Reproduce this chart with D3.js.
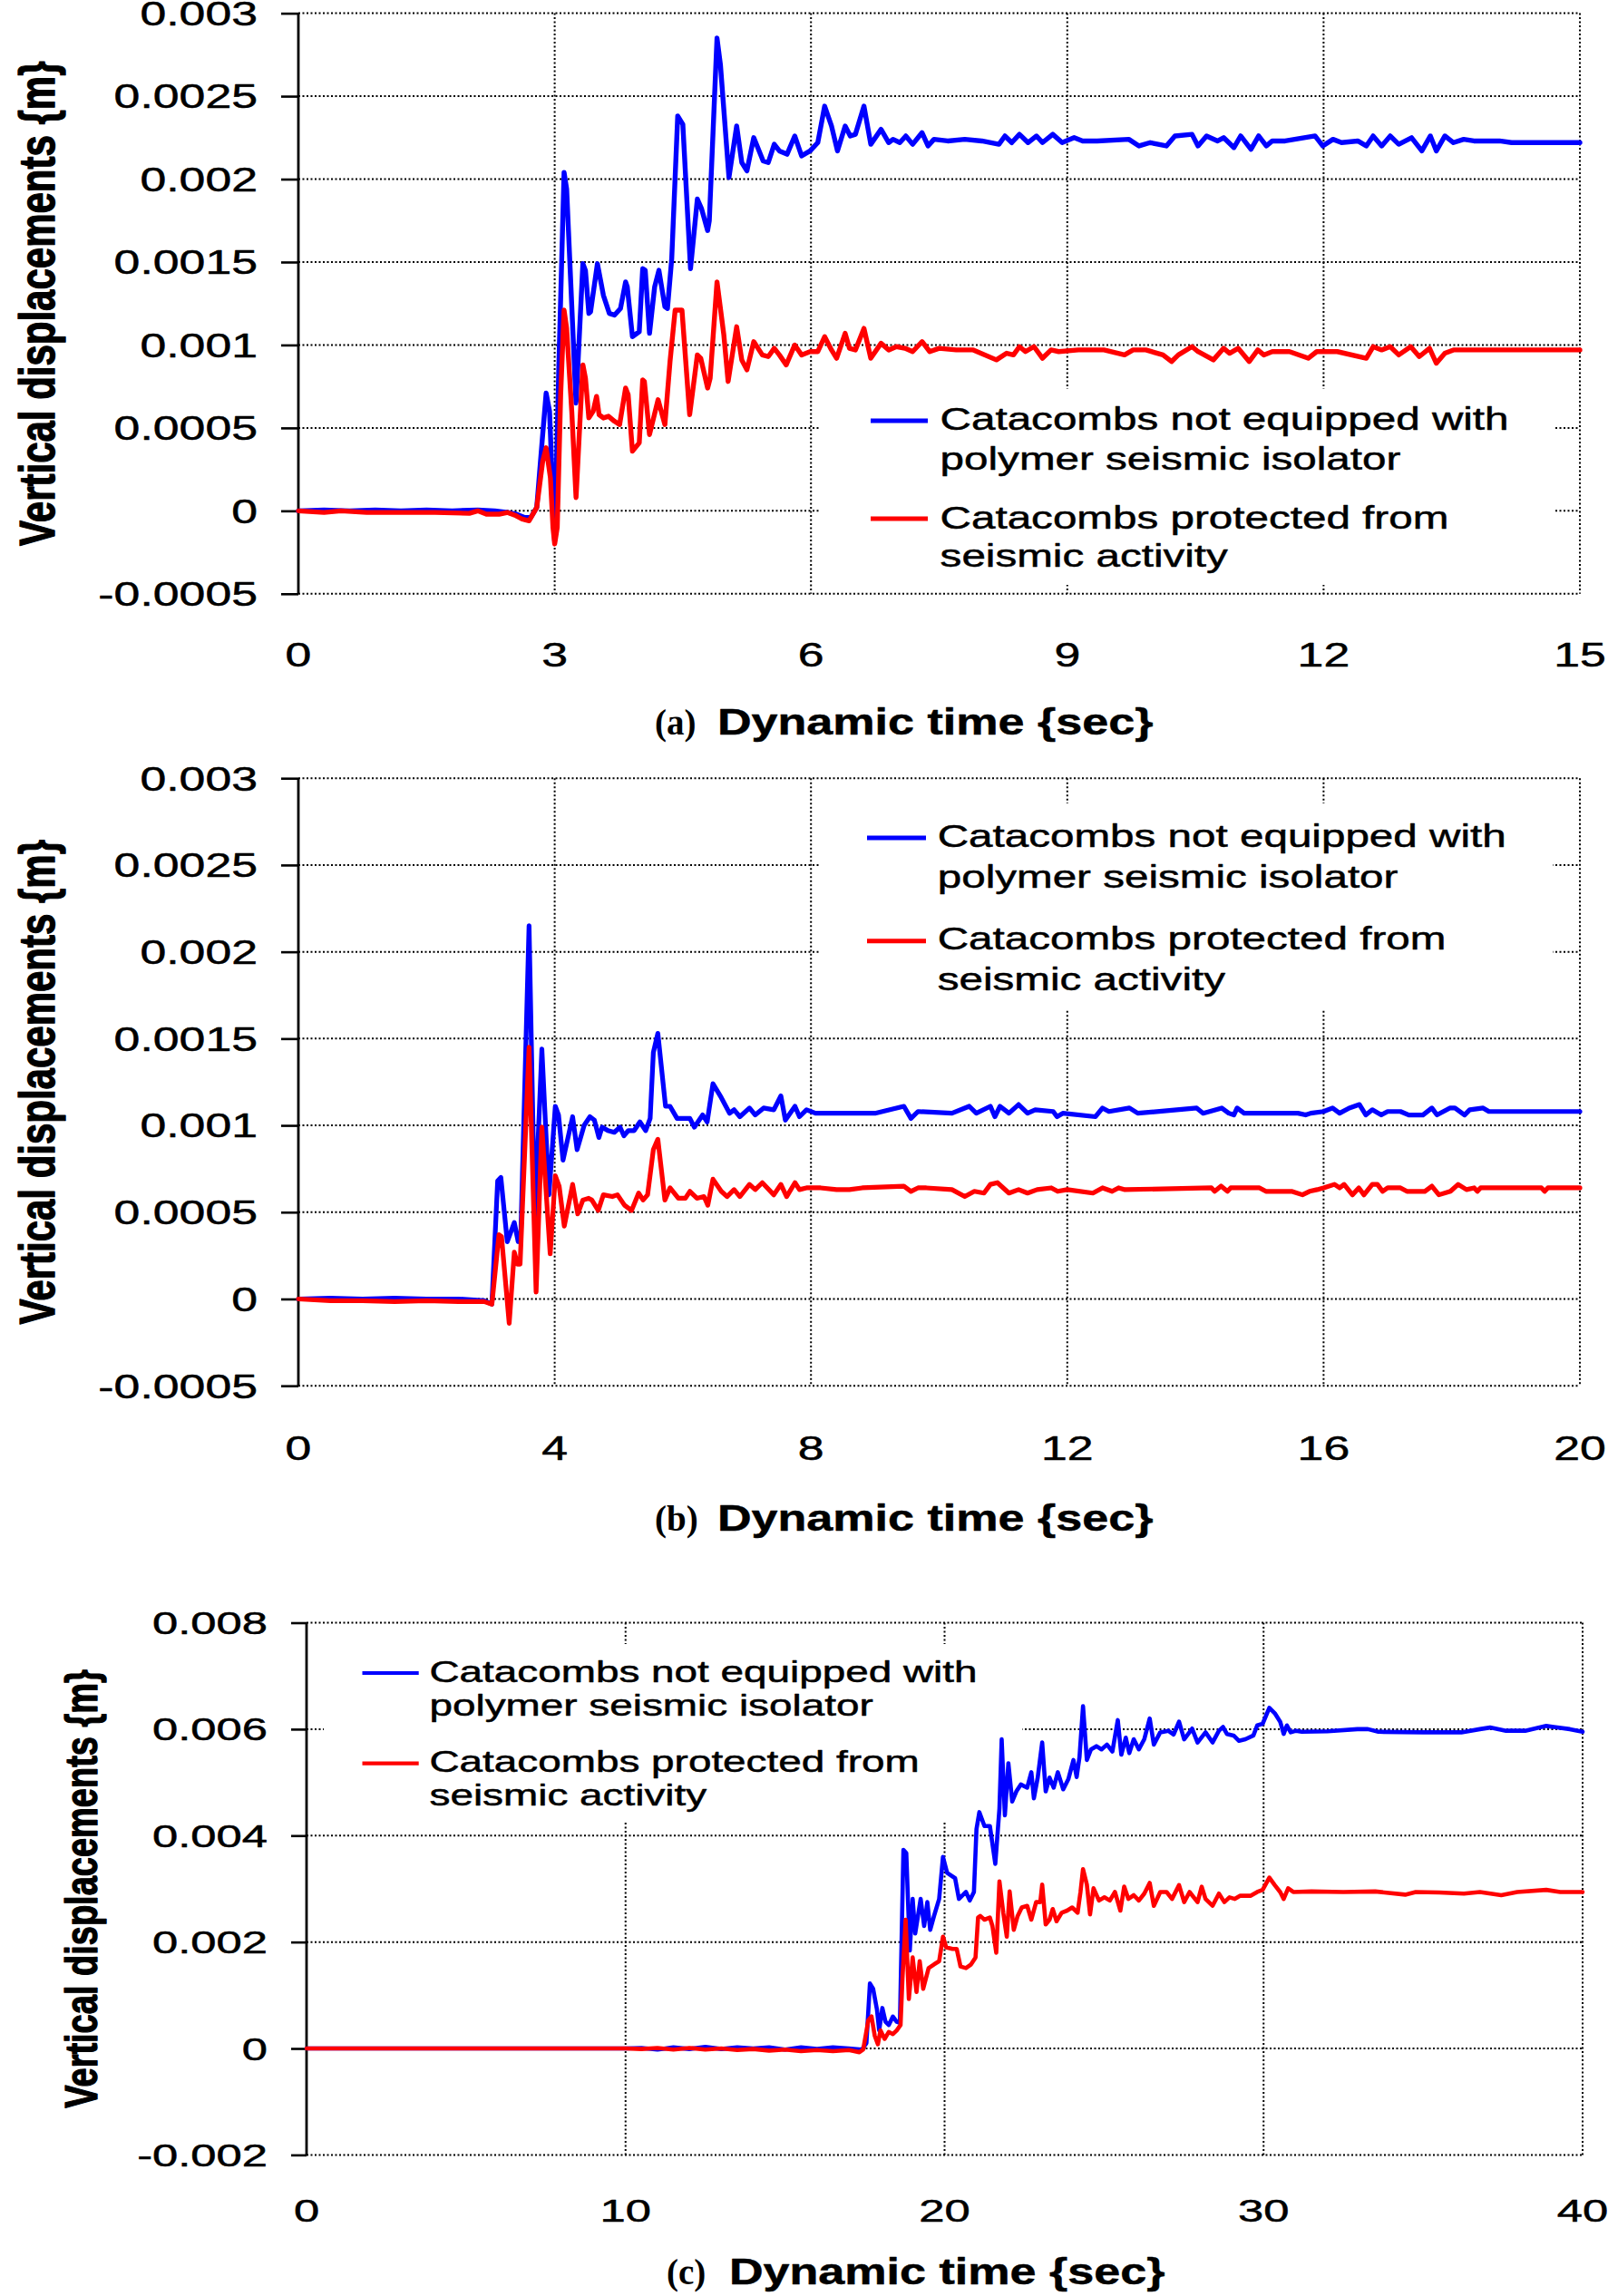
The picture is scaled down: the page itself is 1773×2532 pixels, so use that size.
<!DOCTYPE html>
<html><head><meta charset="utf-8">
<script src="https://cdn.jsdelivr.net/npm/d3@7"></script>
<style>body{margin:0;background:#fff} svg{display:block}</style>
</head><body>
<script>
// ---------------- DATA ----------------
const seriesNames = [["Catacombs not equipped with","polymer seismic isolator"],["Catacombs protected from","seismic activity"]];
const seriesColors = ["#0000ff","#ff0000"];
const panelLetters = ["(a)","(b)","(c)"];
const xTitle = "Dynamic time {sec}";
const yTitle = "Vertical displacements {m}";

const xTicksA = [0,3,6,9,12,15];
const xTicksB = [0,4,8,12,16,20];
const xTicksC = [0,10,20,30,40];
const yTicksAB = [-0.0005,0,0.0005,0.001,0.0015,0.002,0.0025,0.003];
const yTickLabelsAB = ["-0.0005","0","0.0005","0.001","0.0015","0.002","0.0025","0.003"];
const yTicksC = [-0.002,0,0.002,0.004,0.006,0.008];
const yTickLabelsC = ["-0.002","0","0.002","0.004","0.006","0.008"];

const blueA = [[0,0],[0.3,0.000005],[0.6,0],[0.9,0.000005],[1.2,0],[1.5,0.000005],[1.8,0],[2.1,0.000005],[2.3,0],[2.45,-0.00001],[2.55,-0.00002],[2.65,-0.00004],[2.72,-0.00004],[2.79,0.00002],[2.85,0.0004],[2.9,0.00071],[2.94,0.0006],[2.97,0.0002],[3.0,-0.00018],[3.05,0.0009],[3.11,0.00204],[3.14,0.00194],[3.25,0.00065],[3.33,0.00149],[3.36,0.00145],[3.40,0.00119],[3.42,0.0012],[3.50,0.00149],[3.57,0.0013],[3.64,0.00119],[3.70,0.00118],[3.77,0.00122],[3.83,0.00138],[3.85,0.00135],[3.91,0.00105],[3.99,0.00108],[4.03,0.00146],[4.06,0.00145],[4.11,0.00107],[4.17,0.00135],[4.22,0.00145],[4.29,0.00123],[4.32,0.00122],[4.37,0.00152],[4.44,0.00238],[4.50,0.00233],[4.59,0.00146],[4.67,0.00188],[4.72,0.00182],[4.79,0.00169],[4.81,0.00175],[4.90,0.00285],[4.94,0.00269],[5.04,0.00201],[5.13,0.00232],[5.19,0.0021],[5.25,0.00205],[5.33,0.00225],[5.44,0.00211],[5.50,0.0021],[5.57,0.00221],[5.63,0.00217],[5.72,0.00215],[5.81,0.00226],[5.89,0.00214],[5.99,0.00217],[6.08,0.00222],[6.16,0.00244],[6.24,0.00232],[6.31,0.00217],[6.40,0.00232],[6.46,0.00226],[6.52,0.00227],[6.62,0.00244],[6.70,0.00221],[6.82,0.0023],[6.91,0.00222],[6.96,0.00224],[7.04,0.00222],[7.11,0.00226],[7.19,0.00221],[7.30,0.00228],[7.37,0.0022],[7.44,0.00224],[7.6,0.00223],[7.8,0.00224],[8.0,0.00223],[8.2,0.00221],[8.27,0.00226],[8.35,0.00222],[8.44,0.00227],[8.54,0.00222],[8.64,0.00226],[8.71,0.00222],[8.83,0.00227],[8.94,0.00222],[9.08,0.00225],[9.18,0.00223],[9.35,0.00223],[9.72,0.00224],[9.84,0.0022],[9.97,0.00222],[10.16,0.0022],[10.26,0.00226],[10.46,0.00227],[10.53,0.0022],[10.63,0.00226],[10.76,0.00223],[10.83,0.00225],[10.95,0.00219],[11.03,0.00226],[11.15,0.00218],[11.24,0.00226],[11.33,0.0022],[11.4,0.00223],[11.55,0.00223],[11.9,0.00226],[11.99,0.0022],[12.11,0.00224],[12.21,0.00222],[12.4,0.00223],[12.5,0.0022],[12.58,0.00226],[12.68,0.0022],[12.78,0.00226],[12.88,0.00221],[13.03,0.00225],[13.15,0.00217],[13.25,0.00226],[13.32,0.00217],[13.42,0.00226],[13.52,0.00222],[13.64,0.00224],[13.76,0.00223],[13.86,0.00223],[14.06,0.00223],[14.2,0.00222],[15,0.00222]];

const redA = [[0,0],[0.3,-0.00001],[0.5,0],[0.8,-0.00001],[1.2,-0.00001],[1.6,-0.00001],[2.0,-0.000015],[2.1,0],[2.2,-0.00002],[2.35,-0.00002],[2.45,-0.00001],[2.55,-0.00003],[2.62,-0.00005],[2.7,-0.00006],[2.79,0.00002],[2.86,0.0003],[2.9,0.00038],[2.95,0.0002],[2.98,-0.0001],[3.0,-0.0002],[3.03,-0.0001],[3.07,0.0007],[3.11,0.00121],[3.14,0.0011],[3.2,0.0006],[3.25,0.00008],[3.33,0.00088],[3.36,0.0008],[3.40,0.00056],[3.45,0.0006],[3.49,0.00069],[3.52,0.00058],[3.57,0.00056],[3.63,0.00057],[3.70,0.00054],[3.76,0.00052],[3.83,0.00074],[3.86,0.0007],[3.91,0.00036],[3.99,0.00041],[4.03,0.00079],[4.05,0.00078],[4.11,0.00046],[4.21,0.00067],[4.29,0.00052],[4.35,0.0009],[4.41,0.00121],[4.49,0.00121],[4.58,0.00058],[4.67,0.00094],[4.71,0.00092],[4.79,0.00074],[4.82,0.0008],[4.90,0.00138],[4.98,0.00106],[5.03,0.00078],[5.13,0.00111],[5.19,0.00091],[5.25,0.00085],[5.33,0.00102],[5.43,0.00094],[5.50,0.00093],[5.57,0.00098],[5.63,0.00094],[5.71,0.00088],[5.81,0.001],[5.89,0.00094],[5.99,0.00096],[6.08,0.00096],[6.16,0.00105],[6.24,0.00097],[6.30,0.00092],[6.40,0.00107],[6.45,0.00098],[6.52,0.00097],[6.62,0.0011],[6.70,0.00092],[6.82,0.00101],[6.91,0.00097],[7.0,0.00099],[7.1,0.00098],[7.19,0.00096],[7.30,0.00102],[7.39,0.00096],[7.5,0.00098],[7.7,0.00097],[7.9,0.00097],[8.17,0.00091],[8.29,0.00095],[8.37,0.00094],[8.44,0.00099],[8.51,0.00096],[8.61,0.00099],[8.71,0.00092],[8.81,0.00097],[8.9,0.00096],[9.13,0.00097],[9.43,0.00097],[9.67,0.00094],[9.77,0.00097],[9.92,0.00097],[10.12,0.00094],[10.22,0.0009],[10.3,0.00094],[10.46,0.00099],[10.53,0.00096],[10.71,0.00091],[10.83,0.00098],[10.9,0.00095],[11.0,0.00098],[11.13,0.0009],[11.23,0.00097],[11.3,0.00094],[11.4,0.00096],[11.6,0.00096],[11.82,0.00092],[11.92,0.00096],[12.16,0.00096],[12.5,0.00092],[12.58,0.00099],[12.68,0.00097],[12.78,0.00099],[12.88,0.00094],[13.02,0.00099],[13.12,0.00093],[13.24,0.00098],[13.32,0.00089],[13.42,0.00095],[13.52,0.00097],[13.8,0.00097],[14.4,0.00097],[15,0.00097]];

const blueB = [[0,0],[0.5,0.000005],[1,0],[1.5,0.000005],[2,0],[2.5,0],[2.9,-0.00001],[3.02,-0.00003],[3.11,0.00068],[3.16,0.0007],[3.26,0.00033],[3.37,0.00044],[3.43,0.00033],[3.47,0.00035],[3.6,0.00215],[3.69,0.00046],[3.8,0.00144],[3.91,0.0006],[4.01,0.00111],[4.06,0.00106],[4.13,0.0008],[4.28,0.00105],[4.35,0.00086],[4.46,0.001],[4.55,0.00105],[4.62,0.00103],[4.69,0.00093],[4.74,0.00099],[4.83,0.00097],[4.93,0.00096],[5.02,0.00099],[5.08,0.00094],[5.15,0.00097],[5.24,0.00097],[5.33,0.00102],[5.42,0.00097],[5.49,0.00104],[5.54,0.00142],[5.61,0.00153],[5.73,0.00111],[5.80,0.00111],[5.91,0.00104],[6.11,0.00104],[6.18,0.00099],[6.31,0.00106],[6.38,0.00102],[6.47,0.00124],[6.6,0.00116],[6.73,0.00107],[6.8,0.00109],[6.89,0.00105],[7.04,0.0011],[7.13,0.00106],[7.26,0.0011],[7.42,0.00109],[7.53,0.00117],[7.6,0.00103],[7.75,0.00111],[7.82,0.00105],[7.93,0.00109],[8.07,0.00107],[8.5,0.00107],[9.0,0.00107],[9.45,0.00111],[9.56,0.00104],[9.67,0.00108],[10.2,0.00107],[10.47,0.00111],[10.58,0.00107],[10.8,0.00111],[10.87,0.00105],[10.95,0.00111],[11.09,0.00107],[11.24,0.00112],[11.38,0.00107],[11.5,0.00109],[11.78,0.00108],[11.84,0.00105],[11.93,0.00107],[12.44,0.00105],[12.55,0.0011],[12.65,0.00108],[12.97,0.0011],[13.1,0.00107],[14.02,0.0011],[14.12,0.00107],[14.41,0.0011],[14.52,0.00107],[14.6,0.00106],[14.65,0.0011],[14.76,0.00107],[15.6,0.00107],[15.72,0.00106],[15.8,0.00107],[16.0,0.00108],[16.14,0.0011],[16.25,0.00107],[16.4,0.0011],[16.56,0.00112],[16.66,0.00106],[16.76,0.00109],[16.9,0.00106],[17.0,0.00108],[17.2,0.00108],[17.33,0.00106],[17.55,0.00106],[17.69,0.0011],[17.77,0.00106],[17.97,0.0011],[18.05,0.0011],[18.2,0.00106],[18.28,0.00109],[18.49,0.0011],[18.58,0.00108],[20,0.00108]];

const redB = [[0,0],[0.5,-0.00001],[1,-0.00001],[1.5,-0.000015],[2,-0.00001],[2.5,-0.000015],[2.9,-0.000015],[3.02,-0.00003],[3.13,0.00037],[3.17,0.00036],[3.29,-0.00014],[3.37,0.00027],[3.42,0.0002],[3.46,0.0002],[3.6,0.00145],[3.71,0.00004],[3.8,0.00099],[3.93,0.00026],[4.01,0.00071],[4.07,0.00065],[4.15,0.00042],[4.28,0.00066],[4.36,0.00049],[4.44,0.00057],[4.53,0.00058],[4.58,0.00057],[4.68,0.00051],[4.76,0.0006],[4.9,0.00059],[4.98,0.0006],[5.09,0.00054],[5.2,0.00051],[5.31,0.00061],[5.38,0.00057],[5.45,0.0006],[5.54,0.00086],[5.61,0.00092],[5.72,0.00057],[5.8,0.00064],[5.93,0.00058],[6.04,0.00058],[6.11,0.00062],[6.22,0.00058],[6.33,0.00059],[6.39,0.00054],[6.47,0.00069],[6.6,0.00062],[6.69,0.00059],[6.8,0.00063],[6.89,0.00059],[7.04,0.00066],[7.13,0.00063],[7.24,0.00067],[7.42,0.0006],[7.53,0.00066],[7.62,0.00059],[7.75,0.00067],[7.82,0.00063],[7.93,0.00064],[8.15,0.00064],[8.4,0.00063],[8.6,0.00063],[8.8,0.00064],[9.45,0.00065],[9.56,0.00062],[9.67,0.00064],[9.8,0.00064],[10.2,0.00063],[10.4,0.00059],[10.55,0.00062],[10.7,0.00061],[10.8,0.00066],[10.91,0.00067],[11.09,0.00061],[11.24,0.00063],[11.38,0.00061],[11.53,0.00063],[11.75,0.00064],[11.85,0.00062],[12.0,0.00063],[12.4,0.00061],[12.55,0.00064],[12.7,0.00062],[12.8,0.00064],[12.9,0.00063],[14.25,0.00064],[14.3,0.00062],[14.4,0.00065],[14.5,0.00062],[14.55,0.00064],[15.0,0.00064],[15.1,0.00062],[15.5,0.00062],[15.67,0.0006],[15.78,0.00062],[15.9,0.00063],[16.0,0.00064],[16.17,0.00066],[16.25,0.00064],[16.32,0.00066],[16.45,0.0006],[16.55,0.00064],[16.63,0.0006],[16.76,0.00066],[16.84,0.00066],[16.92,0.00062],[17.0,0.00064],[17.2,0.00064],[17.3,0.00062],[17.5,0.00062],[17.58,0.00062],[17.69,0.00065],[17.8,0.0006],[17.98,0.00062],[18.1,0.00066],[18.23,0.00063],[18.35,0.00064],[18.4,0.00062],[18.45,0.00064],[19.4,0.00064],[19.45,0.00062],[19.5,0.00064],[20,0.00064]];

const blueC = [[0,0],[5,0],[10,0],[10.5,0.00001],[11,-0.00002],[11.5,0.00002],[12,-0.00001],[12.5,0.00003],[13,-0.00001],[13.5,0.00002],[14,0],[14.5,0.00002],[15,-0.00002],[15.5,0.00002],[16,-0.00001],[16.5,0.00002],[17,0],[17.41,-0.00002],[17.55,0.0001],[17.66,0.00122],[17.76,0.00112],[17.88,0.00073],[17.95,0.00034],[18.05,0.00076],[18.15,0.0005],[18.25,0.00044],[18.38,0.0006],[18.5,0.0005],[18.6,0.00048],[18.71,0.00373],[18.8,0.00367],[18.91,0.00184],[19.0,0.00281],[19.08,0.00216],[19.25,0.00281],[19.36,0.0023],[19.46,0.00275],[19.55,0.00223],[19.67,0.00249],[19.83,0.00281],[19.95,0.0036],[20.08,0.0033],[20.33,0.0032],[20.45,0.00281],[20.67,0.00294],[20.79,0.00278],[20.92,0.00294],[21.0,0.00412],[21.09,0.00444],[21.25,0.00418],[21.42,0.00418],[21.59,0.00347],[21.72,0.00451],[21.79,0.00581],[21.89,0.00438],[22.0,0.00536],[22.12,0.00464],[22.25,0.00483],[22.39,0.00496],[22.59,0.0049],[22.72,0.00519],[22.8,0.0047],[22.92,0.00509],[23.06,0.00575],[23.17,0.00483],[23.29,0.00509],[23.42,0.0049],[23.55,0.00519],[23.72,0.00487],[23.88,0.00506],[24.04,0.00542],[24.14,0.0051],[24.23,0.00548],[24.34,0.00643],[24.46,0.00542],[24.59,0.00562],[24.76,0.00568],[24.92,0.00562],[25.09,0.00571],[25.26,0.00558],[25.43,0.00617],[25.54,0.00552],[25.68,0.00584],[25.79,0.00555],[25.93,0.00581],[26.09,0.00562],[26.26,0.00581],[26.43,0.0062],[26.56,0.00571],[26.76,0.00594],[27.01,0.00597],[27.18,0.0059],[27.35,0.00614],[27.51,0.00581],[27.76,0.00601],[27.93,0.00575],[28.18,0.00594],[28.4,0.00575],[28.6,0.00597],[28.73,0.00604],[28.85,0.00591],[29.06,0.00588],[29.23,0.00578],[29.43,0.00581],[29.68,0.00588],[29.8,0.00607],[29.97,0.0061],[30.18,0.0064],[30.35,0.0063],[30.52,0.00614],[30.63,0.00591],[30.73,0.00607],[30.85,0.00594],[31.02,0.00597],[31.2,0.00595],[32,0.00596],[32.94,0.006],[33.27,0.006],[33.6,0.00595],[35,0.00594],[36.2,0.00594],[36.78,0.006],[37.1,0.00603],[37.6,0.00597],[38.2,0.00597],[38.86,0.00606],[39.1,0.00604],[39.6,0.006],[40,0.00595]];

const redC = [[0,0],[5,0],[10,0],[10.5,-0.00001],[11,0.00001],[11.5,-0.00002],[12,0.00001],[12.5,-0.00002],[13,0],[13.5,-0.00003],[14,-0.00001],[14.5,-0.00004],[15,-0.00002],[15.5,-0.00005],[16,-0.00003],[16.5,-0.00005],[17,-0.00003],[17.33,-0.00007],[17.45,-0.00002],[17.61,0.00053],[17.71,0.0006],[17.81,0.00024],[17.91,0.00008],[17.99,0.00034],[18.12,0.00018],[18.25,0.00031],[18.38,0.00027],[18.5,0.00034],[18.62,0.00044],[18.68,0.00132],[18.78,0.00242],[18.88,0.00093],[19.0,0.00171],[19.12,0.00106],[19.22,0.00164],[19.33,0.00112],[19.5,0.00151],[19.67,0.00158],[19.83,0.00164],[19.95,0.0021],[20.05,0.0019],[20.25,0.00187],[20.38,0.00187],[20.5,0.00154],[20.67,0.00151],[20.83,0.00158],[20.97,0.00171],[21.05,0.00246],[21.12,0.00249],[21.25,0.00242],[21.42,0.00246],[21.5,0.0023],[21.62,0.0018],[21.72,0.00314],[21.84,0.00255],[21.95,0.0021],[22.04,0.00295],[22.17,0.00223],[22.29,0.00249],[22.42,0.00265],[22.59,0.00268],[22.72,0.00242],[22.87,0.00275],[23.0,0.00275],[23.06,0.00308],[23.17,0.00233],[23.29,0.00242],[23.39,0.00262],[23.51,0.00239],[23.67,0.00255],[23.84,0.00259],[24.0,0.00265],[24.17,0.00255],[24.26,0.00294],[24.34,0.00337],[24.46,0.00308],[24.56,0.00252],[24.67,0.00301],[24.84,0.00278],[25.01,0.00284],[25.18,0.00278],[25.34,0.00294],[25.51,0.00259],[25.63,0.00304],[25.76,0.00281],[25.93,0.00288],[26.09,0.00278],[26.26,0.00291],[26.43,0.00311],[26.56,0.00268],[26.76,0.00294],[26.96,0.00294],[27.13,0.00281],[27.35,0.00307],[27.51,0.00275],[27.68,0.00294],[27.93,0.00275],[28.06,0.00304],[28.18,0.00281],[28.4,0.00268],[28.6,0.00291],[28.77,0.00275],[28.93,0.00284],[29.1,0.00281],[29.27,0.00287],[29.6,0.00287],[29.8,0.00294],[29.97,0.00298],[30.18,0.00321],[30.35,0.00307],[30.52,0.00294],[30.63,0.00281],[30.77,0.00301],[30.93,0.00294],[31.5,0.00295],[32.5,0.00294],[33.5,0.00295],[34.44,0.00289],[34.77,0.00294],[35.5,0.00293],[36.28,0.00291],[36.78,0.00294],[37.45,0.00288],[37.95,0.00294],[38.86,0.00298],[39.3,0.00294],[40,0.00294]];

// ---------------- DRAWING ----------------
const W = 1773, H = 2532;
const svg = d3.select("body").append("svg").attr("width", W).attr("height", H);
const SANS = "'Liberation Sans', Arial, Helvetica, sans-serif";
const SERIF = "'Liberation Serif', 'Times New Roman', serif";

function stext(g, x, y, str, o) {
  const t = g.append("text")
    .attr("transform", `translate(${x},${y}) scale(${o.k || 1},1)`)
    .attr("text-anchor", o.anchor || "start")
    .attr("font-family", o.family || SANS)
    .attr("font-size", o.size)
    .attr("font-weight", o.weight || "normal")
    .attr("fill", "#000")
    .text(str);
  if (o.sw) t.attr("stroke", "#000").attr("stroke-width", o.sw).attr("stroke-linejoin", "round");
  return t;
}

const panels = [
  { letter: panelLetters[0], left: 329, right: 1742, top: 14.6, bottom: 654.8,
    xDomain: [0, 15], yDomain: [-0.0005, 0.003], xTicks: xTicksA, yTicks: yTicksAB, yLabels: yTickLabelsAB,
    series: [blueA, redA], tickLen: 19, tickFont: 37, tickK: 1.4, yLabRight: 284, xLabY: 735,
    yTitleX: 60, yTitleSize: 42, lineW: 5.4,
    leg: { rect: [905, 429, 1714, 645], x1: 960, x2: 1023, tx: 1036.6, ys: [464, 572], bl: [474, 518, 582.6, 625], size: 35, k: 1.36, lw: 5 },
    title: { y: 810, lx: 722, tx: 791 } },
  { letter: panelLetters[1], left: 329, right: 1742, top: 858.2, bottom: 1528.2,
    xDomain: [0, 20], yDomain: [-0.0005, 0.003], xTicks: xTicksB, yTicks: yTicksAB, yLabels: yTickLabelsAB,
    series: [blueB, redB], tickLen: 19, tickFont: 37, tickK: 1.4, yLabRight: 284, xLabY: 1610,
    yTitleX: 60, yTitleSize: 42, lineW: 5.2,
    leg: { rect: [903, 886, 1712, 1114], x1: 956, x2: 1021, tx: 1033.7, ys: [924, 1037.7], bl: [933.5, 978.6, 1047, 1092], size: 35, k: 1.36, lw: 5 },
    title: { y: 1688, lx: 722, tx: 791 } },
  { letter: panelLetters[2], left: 338, right: 1745, top: 1789.5, bottom: 2376.4,
    xDomain: [0, 40], yDomain: [-0.002, 0.008], xTicks: xTicksC, yTicks: yTicksC, yLabels: yTickLabelsC,
    series: [blueC, redC], tickLen: 17, tickFont: 35, tickK: 1.45, yLabRight: 295, xLabY: 2450,
    yTitleX: 107, yTitleSize: 38, lineW: 4.6,
    leg: { rect: [357, 1813, 1127, 2009], x1: 399.5, x2: 461.7, tx: 473.5, ys: [1845, 1944.6], bl: [1855, 1891.5, 1953.7, 1991], size: 33, k: 1.39, lw: 4.2 },
    title: { y: 2519, lx: 735, tx: 804 } }
];

panels.forEach(p => {
  const g = svg.append("g");
  const x = d3.scaleLinear().domain(p.xDomain).range([p.left, p.right]);
  const y = d3.scaleLinear().domain(p.yDomain).range([p.bottom, p.top]);

  // gridlines (dotted)
  const grid = g.append("g").attr("stroke", "#000").attr("stroke-width", 2).attr("stroke-dasharray", "2,2.5");
  p.yTicks.forEach(v => grid.append("line").attr("x1", p.left).attr("x2", p.right).attr("y1", y(v)).attr("y2", y(v)));
  p.xTicks.filter(v => v !== p.xDomain[0]).forEach(v => grid.append("line").attr("x1", x(v)).attr("x2", x(v)).attr("y1", p.top).attr("y2", p.bottom));

  // legend background (hides gridlines)
  const r = p.leg.rect;
  g.append("rect").attr("x", r[0]).attr("y", r[1]).attr("width", r[2] - r[0]).attr("height", r[3] - r[1]).attr("fill", "#fff");

  // y axis with outward ticks
  const yAxis = d3.axisLeft(y).tickValues(p.yTicks).tickSize(p.tickLen).tickFormat(() => "");
  const ax = g.append("g").attr("transform", `translate(${p.left},0)`).call(yAxis);
  ax.select(".domain").attr("stroke", "#000").attr("stroke-width", 2.8).attr("d", `M0,${p.top}V${p.bottom}`);
  ax.selectAll(".tick line").attr("stroke", "#000").attr("stroke-width", 2.6);

  // y tick labels
  p.yTicks.forEach((v, i) => stext(g, p.yLabRight, y(v) + p.tickFont * 0.36, p.yLabels[i], { size: p.tickFont, k: p.tickK, anchor: "end", sw: 0.5 }));
  // x tick labels
  p.xTicks.forEach(v => stext(g, x(v), p.xLabY, String(v), { size: p.tickFont, k: p.tickK, anchor: "middle", sw: 0.5 }));

  // data lines
  const line = d3.line().x(d => x(d[0])).y(d => y(d[1]));
  p.series.forEach((s, i) => {
    g.append("path").datum(s).attr("d", line).attr("fill", "none")
      .attr("stroke", seriesColors[i]).attr("stroke-width", p.lineW)
      .attr("stroke-linejoin", "round").attr("stroke-linecap", "round");
  });

  // legend
  seriesNames.forEach((lines, i) => {
    g.append("line").attr("x1", p.leg.x1).attr("x2", p.leg.x2).attr("y1", p.leg.ys[i]).attr("y2", p.leg.ys[i])
      .attr("stroke", seriesColors[i]).attr("stroke-width", p.leg.lw);
    lines.forEach((t, j) => stext(g, p.leg.tx, p.leg.bl[i * 2 + j], t, { size: p.leg.size, k: p.leg.k, sw: 0.5 }));
  });

  // x title
  stext(g, p.title.lx, p.title.y, p.letter, { size: 39, family: SERIF, weight: "bold" });
  stext(g, p.title.tx, p.title.y, xTitle, { size: 41, weight: "bold", k: 1.27, sw: 0.5 });

  // y title (rotated)
  g.append("text")
    .attr("transform", `translate(${p.yTitleX},${(p.top + p.bottom) / 2}) rotate(-90) scale(1,1.3)`)
    .attr("text-anchor", "middle").attr("font-family", SANS).attr("font-weight", "bold")
    .attr("font-size", p.yTitleSize).attr("fill", "#000")
    .attr("stroke", "#000").attr("stroke-width", 1).attr("stroke-linejoin", "round")
    .text(yTitle);
});
</script>
</body></html>
